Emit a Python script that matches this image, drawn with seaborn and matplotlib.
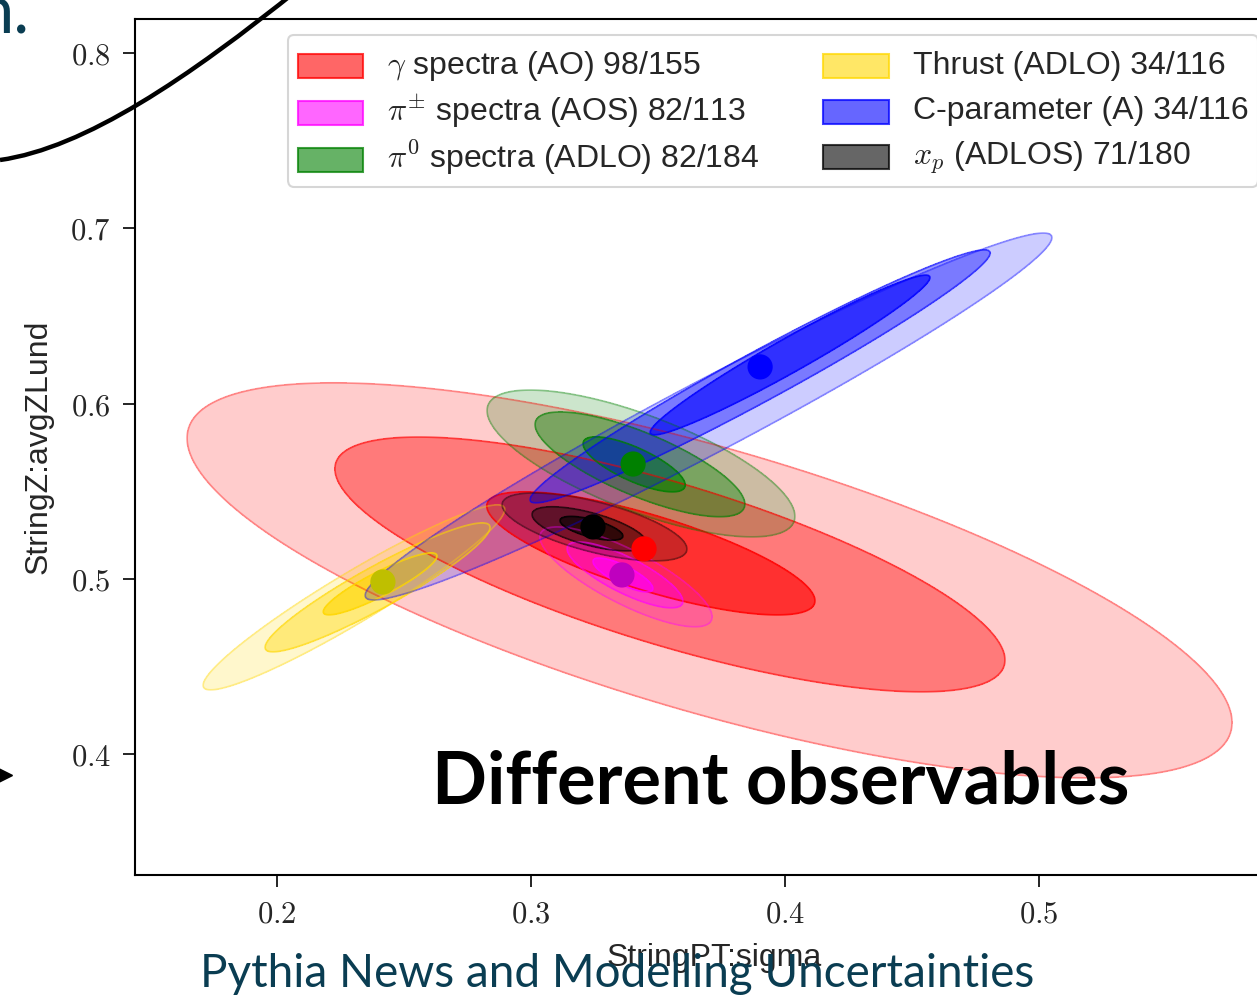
import numpy as np
import pandas as pd
import matplotlib
matplotlib.use('Agg')
import matplotlib.pyplot as plt
from matplotlib.patches import Patch, PathPatch, Rectangle
from matplotlib.path import Path
from matplotlib.lines import Line2D
from matplotlib.colors import to_rgba
from matplotlib.ticker import FuncFormatter
from matplotlib.legend_handler import HandlerPatch
import seaborn as sns

sns.set_style('ticks')
plt.rcParams['font.family'] = ['Liberation Sans', 'DejaVu Sans']
plt.rcParams['mathtext.fontset'] = 'cm'

# observables (legend order)
labels = [r'$\gamma$ spectra (AO) 98/155',
          r'$\pi^{\pm}$ spectra (AOS) 82/113',
          r'$\pi^{0}$ spectra (ADLO) 82/184',
          'Thrust (ADLO) 34/116',
          'C-parameter (A) 34/116',
          r'$x_p$ (ADLOS) 71/180']
fill_colors = ['red', 'magenta', 'green', 'gold', 'blue', 'black']
dot_colors = ['red', 'm', 'g', 'y', 'b', 'k']

# best fit points
best_x = [0.3445, 0.3358, 0.3402, 0.2417, 0.3902, 0.3244]
best_y = [0.5171, 0.5022, 0.5655, 0.4982, 0.6209, 0.5296]

# confidence regions, each row = [outer, middle, inner]
region_cx = [[0.3703, 0.3547, 0.3472],
             [0.3374, 0.3370, 0.3362],
             [0.3433, 0.3429, 0.3406],
             [0.2303, 0.2396, 0.2406],
             [0.3699, 0.3902, 0.4020],
             [0.3250, 0.3230, 0.3238]]
region_cy = [[0.4991, 0.5082, 0.5145],
             [0.5011, 0.5022, 0.5022],
             [0.5658, 0.5653, 0.5653],
             [0.4894, 0.4951, 0.4971],
             [0.5926, 0.6155, 0.6277],
             [0.5296, 0.5285, 0.5288]]
region_hx = [[0.2057, 0.1319, 0.0646],
             [0.0339, 0.0228, 0.0118],
             [0.0606, 0.0413, 0.0201],
             [0.0594, 0.0443, 0.0224],
             [0.1352, 0.0906, 0.0551],
             [0.0364, 0.0226, 0.0124]]
region_hy = [[0.1127, 0.0727, 0.0351],
             [0.0285, 0.0188, 0.0097],
             [0.0419, 0.0299, 0.0157],
             [0.0528, 0.0368, 0.0177],
             [0.1047, 0.0722, 0.0456],
             [0.0194, 0.0126, 0.0068]]
region_rho = [[-0.72, -0.75, -0.77],
              [-0.80, -0.80, -0.80],
              [-0.72, -0.76, -0.75],
              [0.95, 0.93, 0.90],
              [0.975, 0.975, 0.97],
              [-0.65, -0.65, -0.65]]
level_alpha = [0.2, 0.4, 0.6]

xticks = [0.2, 0.3, 0.4, 0.5]
yticks = [0.4, 0.5, 0.6, 0.7, 0.8]

W, H = 1257, 996
fig = plt.figure(figsize=(W / 100, H / 100), dpi=100)
ax = fig.add_axes([135 / W, 121 / H, 1158 / W, 856 / H])

gx = np.linspace(0.10, 0.65, 700)
gy = np.linspace(0.28, 0.86, 700)
X, Y = np.meshgrid(gx, gy)

for i, c in enumerate(fill_colors):
    for k in range(3):
        u = (X - region_cx[i][k]) / region_hx[i][k]
        v = (Y - region_cy[i][k]) / region_hy[i][k]
        r = region_rho[i][k]
        Q = (u ** 2 - 2 * r * u * v + v ** 2) / (1 - r ** 2)
        ax.contourf(X, Y, Q, levels=[0, 1], colors=[c], alpha=level_alpha[k])
        ax.contour(X, Y, Q, levels=[1], colors=[c], alpha=level_alpha[k] + 0.15,
                   linewidths=1.3)

dots = pd.DataFrame({'x': best_x, 'y': best_y, 'obs': labels})
sns.scatterplot(data=dots, x='x', y='y', hue='obs',
                palette=dict(zip(labels, dot_colors)), s=330,
                edgecolor='none', legend=False, ax=ax, zorder=5)

ax.set_xlim(0.1441, 0.6)
ax.set_ylim(0.331, 0.8194)
ax.set_xticks(xticks)
ax.set_yticks(yticks)
fmt = FuncFormatter(lambda v, p: r'$%.1f$' % v)
ax.xaxis.set_major_formatter(fmt)
ax.yaxis.set_major_formatter(fmt)
ax.tick_params(length=8.5, width=1.2, labelsize=22, pad=9, color='black')
for s in ax.spines.values():
    s.set_linewidth(1.5)
    s.set_color('black')
ax.set_xlabel('StringPT:sigma', fontsize=23, labelpad=10)
ax.set_ylabel('StringZ:avgZLund', fontsize=23, labelpad=12)


# legend swatches: tall handle box so both columns get equal rows
def swatch(legend, orig_handle, xdescent, ydescent, width, height, fontsize):
    h = 0.75 * fontsize
    return Rectangle((-xdescent, -ydescent + (height - h) / 2 - 0.1 * fontsize), width, h)


handles = [Patch(facecolor=to_rgba(c, 0.6), edgecolor=to_rgba(c, 0.75), linewidth=1.5)
           for c in fill_colors]
leg = ax.legend(handles, labels, ncol=2, fontsize=23, loc='upper left',
                bbox_to_anchor=(288 / W, 1 - 35 / H), bbox_transform=fig.transFigure,
                borderaxespad=0, handlelength=2.05, handleheight=1.4,
                handletextpad=0.75, columnspacing=2.0, labelspacing=0.27,
                borderpad=0.3, frameon=True, fancybox=True,
                handler_map={Patch: HandlerPatch(patch_func=swatch)})
leg.get_frame().set_edgecolor('0.8')
leg.get_frame().set_linewidth(1.5)

# slide overlay
teal = '#0a3d52'
fig.text(432 / W, 1 - 803 / H, 'Different observables', fontsize=52,
         fontweight='bold', family='Lato', color='black', va='baseline', zorder=10)
fig.text(200 / W, 1 - 987 / H, 'Pythia News and Modelling Uncertainties',
         fontsize=33, family='Lato', color=teal, va='baseline')
fig.text(-24 / W, 1 - 34 / H, 'n.', fontsize=48, family='Lato', color=teal,
         va='baseline')
curve = [(0, 160), (85, 148), (188, 78), (300, -12)]
verts = [(px / W, 1 - py / H) for px, py in curve]
fig.patches.append(PathPatch(Path(verts, [Path.MOVETO, Path.CURVE4, Path.CURVE4, Path.CURVE4]),
                             facecolor='none', edgecolor='black', linewidth=3.2,
                             transform=fig.transFigure, figure=fig))
fig.lines.append(Line2D([3 / W], [1 - 775 / H], marker='>', markersize=13, color='black',
                        transform=fig.transFigure, figure=fig))

fig.savefig('out.png', dpi=100)
